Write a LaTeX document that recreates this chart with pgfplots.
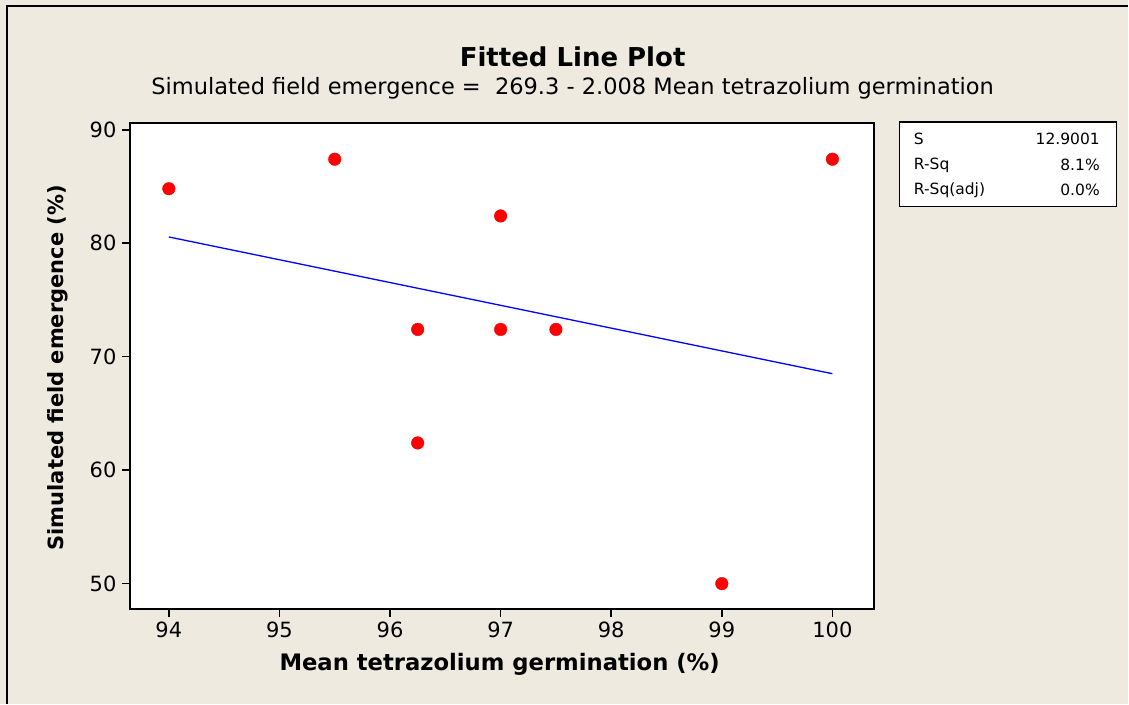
\documentclass[border=0pt]{standalone}
\usepackage{fontspec}
\setmainfont{DejaVu Sans}
\usepackage{pgfplots}
\pgfplotsset{compat=1.18}
\definecolor{bgbeige}{HTML}{EEEAE0}
\definecolor{ptred}{HTML}{FF0000}
\definecolor{fitblue}{HTML}{0000FF}

\begin{document}
\begin{tikzpicture}[x=1pt,y=1pt]
  % page background, 1 pt = 1 px of the reference
  \fill[bgbeige] (0,0) rectangle (1129,704);
  \draw[line width=1.5pt] (7,0) -- (7,698) -- (1129,698);

  \begin{axis}[
    at={(130pt,95pt)}, anchor=south west,
    scale only axis,
    width=745pt, height=486pt,
    xmin=93.648, xmax=100.38,
    ymin=47.8, ymax=90.6,
    xtick={94,95,...,100},
    ytick={50,60,70,80,90},
    axis background/.style={fill=white},
    tick style={line width=1.6pt, black},
    tick align=outside,
    major tick length=8pt,
    xtick pos=bottom, ytick pos=left,
    /pgf/number format/assume math mode=true,
    tick label style={font=\fontsize{21}{26}\selectfont},
    xticklabel style={yshift=-2pt},
    yticklabel style={xshift=-2pt},
    clip=false,
  ]
  \addplot[only marks, mark=*, mark size=6.3pt, color=ptred, mark options={draw=ptred, fill=ptred}] coordinates {
    (94, 84.8)
    (95.5, 87.4)
    (96.25, 72.4)
    (96.25, 62.4)
    (97, 82.4)
    (97, 72.4)
    (97.5, 72.4)
    (99, 50)
    (100, 87.4)
  };
  \addplot[color=fitblue, line width=1.3pt] coordinates {
    (94, 80.55)
    (100, 68.5)
  };
  \draw[line width=2pt] (rel axis cs:0,0) rectangle (rel axis cs:1,1);
  \end{axis}

  % titles
  \node[font=\fontsize{26}{30}\selectfont\bfseries] at (573,647) {Fitted Line Plot};
  \node[font=\fontsize{22.5}{26}\selectfont] at (573,616) {Simulated field emergence =\ \ 269.3 - 2.008 Mean tetrazolium germination};
  \node[font=\fontsize{22.7}{26}\selectfont\bfseries] at (500,39) {Mean tetrazolium germination (\%)};
  \node[font=\fontsize{21}{26}\selectfont\bfseries, rotate=90] at (58,336) {Simulated field emergence (\%)};

  % summary box
  \draw[line width=1.2pt, fill=white] (900,582) rectangle (1117,497);
  \begin{scope}[font=\fontsize{15.5}{19}\selectfont]
    \node[anchor=west] at (911,565) {S};
    \node[anchor=west] at (911,539) {R-Sq};
    \node[anchor=west] at (911,514) {R-Sq(adj)};
    \node[anchor=east] at (1104,565) {12.9001};
    \node[anchor=east] at (1104,539) {8.1\%};
    \node[anchor=east] at (1104,514) {0.0\%};
  \end{scope}
\end{tikzpicture}
\end{document}
